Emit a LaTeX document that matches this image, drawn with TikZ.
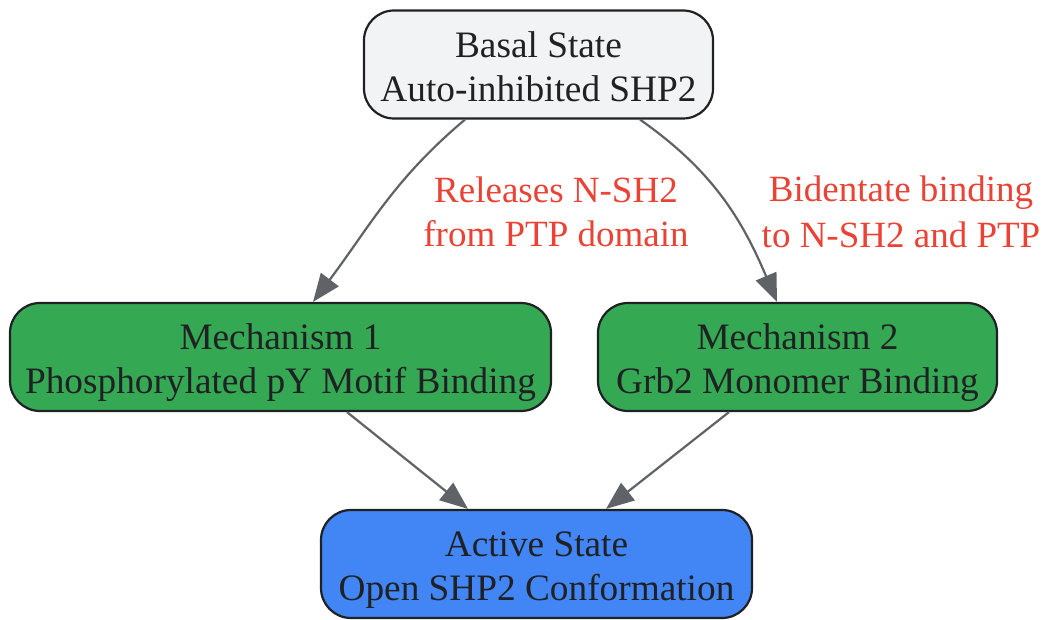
\documentclass[tikz,border=0pt]{standalone}
\usepackage{fontspec}
\setmainfont{Liberation Serif}
\usetikzlibrary{arrows.meta}
\definecolor{basalfill}{HTML}{F1F3F4}
\definecolor{mechfill}{HTML}{34A853}
\definecolor{activefill}{HTML}{4285F4}
\definecolor{bordercol}{HTML}{202124}
\definecolor{edgecol}{HTML}{5F6368}
\definecolor{labelcol}{HTML}{EA4335}
\newcommand{\lstrut}{\rule[-7.2pt]{0pt}{44pt}}
\tikzset{
  statebox/.style={draw=bordercol, line width=2.2pt, rounded corners=30pt,
    text=bordercol, inner sep=0pt, align=center, minimum height=108pt,
    font=\fontsize{37.3}{44}\selectfont},
  edge/.style={draw=edgecol, line width=2.2pt, -{Triangle[length=28pt,width=22pt]}},
  elabel/.style={text=labelcol, align=center, inner sep=0pt,
    font=\fontsize{37}{44}\selectfont}
}
\begin{document}
\begin{tikzpicture}[x=1pt,y=-1pt]
\useasboundingbox (0,0) rectangle (1043,620);
\node[statebox, fill=basalfill, minimum width=349pt] (basal) at (538.5,64.5)
  {\lstrut Basal State\\\lstrut Auto-inhibited SHP2};
\node[statebox, fill=mechfill, minimum width=541pt] (mech1) at (280.5,357)
  {\lstrut Mechanism 1\\\lstrut Phosphorylated pY Motif Binding};
\node[statebox, fill=mechfill, minimum width=399pt] (mech2) at (797.5,357)
  {\lstrut Mechanism 2\\\lstrut Grb2 Monomer Binding};
\node[statebox, fill=activefill, minimum width=431pt] (active) at (536.5,564)
  {\lstrut Active State\\\lstrut Open SHP2 Conformation};
\draw[edge] ([xshift=-73.5pt]basal.south) to[out=-140,in=53] ([xshift=32.5pt]mech1.north);
\draw[edge] ([xshift=101.5pt]basal.south) to[out=-35,in=113] ([xshift=-20.5pt]mech2.north);
\draw[edge] ([xshift=66.5pt]mech1.south) -- ([xshift=-68.5pt]active.north);
\draw[edge] ([xshift=-68.5pt]mech2.south) -- ([xshift=69.5pt]active.north);
\node[elabel] (lab1) at (556,210) {\lstrut Releases N-SH2\\\lstrut from PTP domain};
\node[elabel] (lab2) at (901,210) {\lstrut Bidentate binding\\\lstrut to N-SH2 and PTP};
\end{tikzpicture}
\end{document}
